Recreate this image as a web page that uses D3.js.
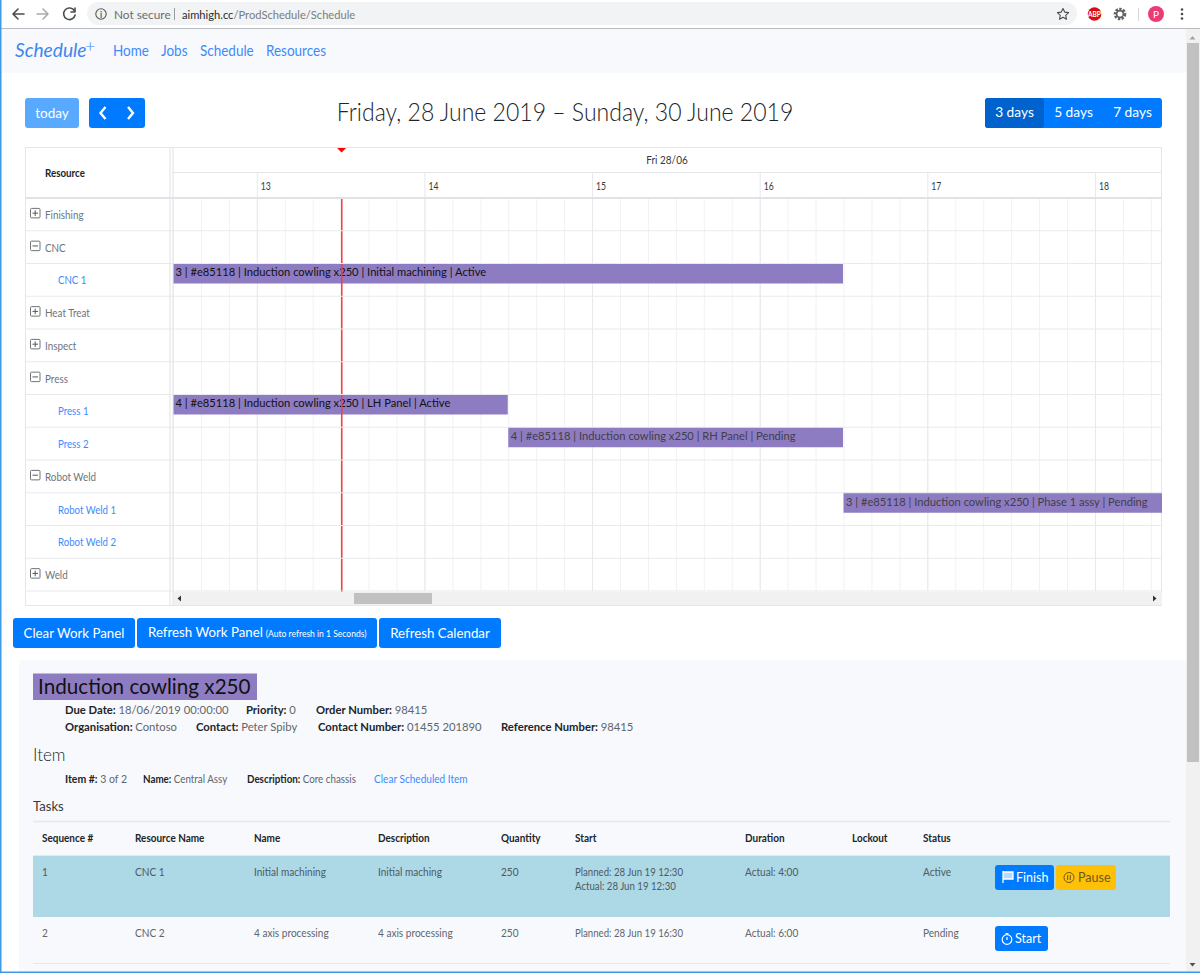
<!DOCTYPE html>
<html>
<head>
<meta charset="utf-8">
<title>Schedule</title>
<script src="https://cdn.jsdelivr.net/npm/d3@7"></script>
<style>
  html, body { margin: 0; padding: 0; background: #fff; overflow: hidden; }
  svg { display: block; font-family: Lato, "Noto Sans", sans-serif; }
  .axis path { display: none; }
</style>
</head>
<body>
<svg id="page" width="1200" height="973"></svg>
<script>
var resources = ["Finishing", "CNC", "CNC 1", "Heat Treat", "Inspect", "Press", "Press 1", "Press 2", "Robot Weld", "Robot Weld 1", "Robot Weld 2", "Weld"];
var resourceKinds = ["closed", "open", "child", "closed", "closed", "open", "child", "child", "open", "child", "child", "closed"];

var taskResources = ["CNC 1", "Press 1", "Press 2", "Robot Weld 1"];
var taskStarts = ["12:30", "12:30", "14:30", "16:30"];
var taskEnds = ["16:30", "14:30", "16:30", "20:30"];
var taskLabels = [
  "3 | #e85118 | Induction cowling x250 | Initial machining | Active",
  "4 | #e85118 | Induction cowling x250 | LH Panel | Active",
  "4 | #e85118 | Induction cowling x250 | RH Panel | Pending",
  "3 | #e85118 | Induction cowling x250 | Phase 1 assy | Pending"
];
var taskStates = ["Active", "Active", "Pending", "Pending"];
var nowTime = "13:30:20";

var navLinks = ["Home", "Jobs", "Schedule", "Resources"];
var viewButtons = ["3 days", "5 days", "7 days"];
var actionButtons = ["Clear Work Panel", "Refresh Work Panel", "Refresh Calendar"];

var orderLabels = ["Due Date: ", "Priority: ", "Order Number: ", "Organisation: ", "Contact: ", "Contact Number: ", "Reference Number: "];
var orderValues = ["18/06/2019 00:00:00", "0", "98415", "Contoso", "Peter Spiby", "01455 201890", "98415"];
var itemLabels = ["Item #: ", "Name: ", "Description: "];
var itemValues = ["3 of 2", "Central Assy", "Core chassis"];

var tableHeaders = ["Sequence #", "Resource Name", "Name", "Description", "Quantity", "Start", "Duration", "Lockout", "Status"];
var rowOne = ["1", "CNC 1", "Initial machining", "Initial maching", "250", "Planned: 28 Jun 19 12:30", "Actual: 4:00", "", "Active"];
var rowOneActual = "Actual: 28 Jun 19 12:30";
var rowTwo = ["2", "CNC 2", "4 axis processing", "4 axis processing", "250", "Planned: 28 Jun 19 16:30", "Actual: 6:00", "", "Pending"];

var svg = d3.select("#page");
var parseTime = function(s) {
  var p = s.split(":");
  return new Date(2019, 5, 28, +p[0], +p[1], +(p[2] || 0));
};

function addRect(parent, x, y, w, h, fill, r) {
  return parent.append("rect").attr("x", x).attr("y", y).attr("width", w).attr("height", h)
    .attr("fill", fill).attr("rx", r || 0);
}
function addText(parent, x, y, str, size, color, weight, anchor) {
  return parent.append("text").attr("x", x).attr("y", y).attr("font-size", size)
    .attr("fill", color).attr("font-weight", weight || 400).attr("text-anchor", anchor || "start").text(str);
}
function addLine(parent, x1, y1, x2, y2, color, w) {
  return parent.append("line").attr("x1", x1).attr("y1", y1).attr("x2", x2).attr("y2", y2)
    .attr("stroke", color).attr("stroke-width", w || 1);
}
function addButton(x, y, w, h, fill, label, size, color) {
  addRect(svg, x, y, w, h, fill, 3);
  return addText(svg, x + w / 2, y + h / 2 + size * 0.35, label, size, color || "#fff", 400, "middle");
}
// the page's own font is narrower than Lato, squeeze text sideways (default .95)
function fit(sel, ratio) { return sel.attr("data-fit", ratio); }

// ---- browser toolbar
addRect(svg, 0, 0, 1200, 973, "#fff");
addRect(svg, 87, 2, 990, 23, "#f1f3f4", 11.5);
addLine(svg, 0, 28.5, 1200, 28.5, "#b8bcc0");
var chrome = svg.append("g").attr("fill", "none").attr("stroke-width", 1.6).attr("stroke-linecap", "round").attr("stroke-linejoin", "round");
chrome.append("path").attr("d", "M24 14H13M18 9l-5 5 5 5").attr("stroke", "#4a4d50");
chrome.append("path").attr("d", "M37 14H48M43 9l5 5-5 5").attr("stroke", "#a8abae");
chrome.append("path").attr("d", "M74.5 11a5.8 5.8 0 1 0 .6 4").attr("stroke", "#4a4d50");
chrome.append("path").attr("d", "M75 8v4h-4").attr("stroke", "#4a4d50");
chrome.append("circle").attr("cx", 101).attr("cy", 14).attr("r", 5.2).attr("stroke", "#55585c").attr("stroke-width", 1.1);
fit(addText(svg, 101, 17.5, "i", 8.5, "#55585c", 700, "middle"), 1);
fit(addText(svg, 114, 19, "Not secure", 11.5, "#6a6d70"), 1.03);
addLine(svg, 174.5, 8, 174.5, 20, "#9a9da0");
var urlText = fit(addText(svg, 182, 19, "aimhigh.cc", 11.5, "#2a2c2e"), 0.97);
urlText.append("tspan").attr("fill", "#7a7d80").text("/ProdSchedule/Schedule");
chrome.append("path").attr("d", "M1063 8.5l1.7 3.6 3.9.5-2.9 2.7.8 3.9-3.5-2-3.5 2 .8-3.9-2.9-2.7 3.9-.5z").attr("stroke", "#4a4d50").attr("stroke-width", 1.1);
svg.append("circle").attr("cx", 1094.5).attr("cy", 14).attr("r", 6.8).attr("fill", "#d50f0f");
fit(addText(svg, 1094.5, 16.5, "ABP", 6.5, "#fff", 700, "middle"), 1);
svg.append("circle").attr("cx", 1120).attr("cy", 14).attr("r", 4.6).attr("fill", "none").attr("stroke", "#5f6368").attr("stroke-width", 3.4).attr("stroke-dasharray", "2.2 1.2");
svg.append("circle").attr("cx", 1120).attr("cy", 14).attr("r", 3.4).attr("fill", "none").attr("stroke", "#5f6368").attr("stroke-width", 1.6);
addLine(svg, 1138.5, 8, 1138.5, 21, "#d5d7d9");
svg.append("circle").attr("cx", 1156).attr("cy", 14).attr("r", 8).attr("fill", "#ec3a77");
fit(addText(svg, 1156, 17.5, "P", 10, "#fff", 400, "middle"), 1);
svg.selectAll(".menu-dot").data(["upper", "middle", "lower"]).enter().append("circle")
  .attr("cx", 1182).attr("cy", function(d, i) { return 9.5 + i * 4.5; }).attr("r", 1.3).attr("fill", "#4a4d50");

// ---- navbar
addRect(svg, 2, 29, 1185, 44, "#f8f9fc");
fit(addText(svg, 15, 57, "Schedule", 20, "#3f86f0", 400).attr("font-style", "italic"), 0.96);
fit(addText(svg, 85, 52, "+", 18, "#3f86f0", 300), 1);
var navX = d3.scaleOrdinal().domain(navLinks).range([113, 161, 200, 266]);
navLinks.forEach(function(d) { fit(addText(svg, navX(d), 56, d, 14.5, "#3d8bfd"), 0.93); });

// ---- calendar toolbar
fit(addButton(25, 98, 54, 30, "#59a9ff", "today", 14), 0.97);
addRect(svg, 89, 98, 56, 30, "#007bff", 3);
svg.append("path").attr("d", "M105.5 107l-5 6 5 6M128 107l5 6-5 6").attr("fill", "none").attr("stroke", "#fff").attr("stroke-width", 2.4);
fit(addText(svg, 565, 121, "Friday, 28 June 2019 \u2013 Sunday, 30 June 2019", 24.5, "#212529", 300, "middle"), 0.94);
addRect(svg, 985, 98, 177, 30, "#007bff", 3);
addRect(svg, 985, 98, 59, 30, "#0062cc", 3);
var viewX = d3.scaleBand().domain(viewButtons).range([985, 1162]);
viewButtons.forEach(function(d) { fit(addText(svg, viewX(d) + viewX.bandwidth() / 2, 117.5, d, 14, "#fff", 400, "middle"), 0.98); });

// ---- calendar
var rowScale = d3.scaleBand().domain(resources).range([198, 591]);
var timeScale = d3.scaleTime().domain([parseTime("12:30"), parseTime("18:24")]).range([173, 1162]);

var cal = svg.append("g");
addRect(cal, 25.5, 147.5, 1136, 458, "#fff").attr("stroke", "#e3e6ea");
addRect(cal, 173, 592, 989, 13, "#f1f1f1");

var clipId = "grid-clip";
svg.append("clipPath").attr("id", clipId).append("rect").attr("x", 173).attr("y", 147).attr("width", 989).attr("height", 445);
var plot = cal.append("g").attr("clip-path", "url(#" + clipId + ")");

// 10 minute grid, hour lines a bit darker
plot.append("g").attr("class", "axis").attr("transform", "translate(0,198)")
  .call(d3.axisBottom(timeScale).ticks(d3.timeMinute.every(10)).tickSize(393).tickFormat(""))
  .selectAll(".tick line").attr("stroke", "#f1f2f4");
plot.append("g").attr("class", "axis").attr("transform", "translate(0,172)")
  .call(d3.axisBottom(timeScale).ticks(d3.timeHour.every(1)).tickSize(419).tickFormat(""))
  .selectAll(".tick line").attr("stroke", "#e6e8ec");

// row lines
resources.forEach(function(d) {
  addLine(cal, 25.5, rowScale(d) + rowScale.bandwidth(), 1162, rowScale(d) + rowScale.bandwidth(), "#e8eaee", 1.2);
});
addLine(cal, 25.5, 198, 1162, 198, "#dfe3e8", 2);
addLine(cal, 173, 172.5, 1162, 172.5, "#e3e6ea", 1.2);
addLine(cal, 170, 147, 170, 606, "#e3e6ea", 1.2);
addLine(cal, 173, 147, 173, 606, "#e3e6ea", 1.2);

// hour labels
var hourAxis = cal.append("g").attr("class", "axis").attr("transform", "translate(0,172)")
  .call(d3.axisBottom(timeScale).ticks(d3.timeHour.every(1)).tickSize(0).tickFormat(d3.timeFormat("%H")));
hourAxis.selectAll(".tick text").attr("text-anchor", "start").attr("x", 3.5).attr("y", 18)
  .attr("dy", 0).attr("font-size", 10.5).attr("font-family", "Lato").attr("fill", "#343a40").attr("data-fit", 0.82);

addText(cal, 667, 164, "Fri 28/06", 10.5, "#343a40", 400, "middle");
fit(addText(cal, 45, 177, "Resource", 10.5, "#212529", 700), 0.93);

// resource column
resources.forEach(function(d, i) {
  var y = rowScale(d) + rowScale.bandwidth() / 2;
  var kind = resourceKinds[i];
  if (kind === "child") {
    fit(addText(cal, 58, y + 4.5, d, 10.5, "#3d8bfd"), 0.92);
  } else {
    fit(addText(cal, 45, y + 4.5, d, 10.5, "#6c757d"), 0.94);
    addRect(cal, 30.5, y - 6, 9.5, 9.5, "#fff", 1).attr("stroke", "#6f7479");
    addLine(cal, 32.5, y - 1.2, 38, y - 1.2, "#55595d");
    if (kind === "closed") addLine(cal, 35.2, y - 4, 35.2, y + 1.6, "#55595d");
  }
});

// tasks
taskResources.forEach(function(d, i) {
  var x0 = timeScale(parseTime(taskStarts[i]));
  var x1 = timeScale(parseTime(taskEnds[i]));
  var y = rowScale(d);
  addRect(plot, x0, y, x1 - x0 - 0.5, 20, "#8e7cc3");
  fit(addText(plot, x0 + 2.5, y + 13, taskLabels[i], 11.5, taskStates[i] === "Active" ? "#111" : "#3f3f46"), 0.972);
});

// now marker
var nowX = timeScale(parseTime(nowTime));
addLine(plot, nowX + 0.2, 198, nowX + 0.2, 592, "#fa3c44", 1.6);
svg.append("path").attr("d", "M" + (nowX - 4.5) + " 148h9l-4.5 4.5z").attr("fill", "#f00");

// calendar scrollbar
addRect(cal, 354, 593, 78, 11, "#c1c1c1");
cal.append("path").attr("d", "M181 595.5v6l-3.5-3z").attr("fill", "#333");
cal.append("path").attr("d", "M1153 595.5v6l3.5-3z").attr("fill", "#333");

// ---- action buttons
addButton(13, 618, 122, 30, "#007bff", actionButtons[0], 14);
addRect(svg, 137, 618, 240, 30, "#007bff", 3);
var refreshText = addText(svg, 148, 637.5, actionButtons[1], 14, "#fff");
refreshText.append("tspan").attr("font-size", 9).attr("dx", 3).text("(Auto refresh in 1 Seconds)");
addButton(379, 618, 122, 30, "#007bff", actionButtons[2], 14);

// ---- work panel
addRect(svg, 19, 660, 1167, 313, "#f8f9fc", 3);
addRect(svg, 33, 673.5, 224, 26.5, "#8e7cc3");
fit(addText(svg, 38, 694, "Induction cowling x250", 22, "#111"), 0.94);

var orderX = [65, 246, 316, 65, 196, 318, 501];
var orderY = [714, 714, 714, 731, 731, 731, 731];
orderLabels.forEach(function(d, i) {
  var t = fit(addText(svg, orderX[i], orderY[i], d, 12, "#212529", 700), 0.94);
  t.append("tspan").attr("font-weight", 400).attr("fill", "#5f666d").text(orderValues[i]);
});

fit(addText(svg, 33, 761, "Item", 17, "#212529", 300), 1);
var itemX = [65, 143, 247];
itemLabels.forEach(function(d, i) {
  var t = fit(addText(svg, itemX[i], 783, d, 10.5, "#212529", 700), i === 0 ? 1 : 0.935);
  t.append("tspan").attr("font-weight", 400).attr("fill", "#5f666d").text(itemValues[i]);
});
fit(addText(svg, 374, 783, "Clear Scheduled Item", 10.5, "#3d8bfd"), 0.96);

fit(addText(svg, 33, 811, "Tasks", 13.5, "#343a40", 400), 0.97);
addLine(svg, 33, 821.5, 1170, 821.5, "#e5e8ec", 1.5);

var columnX = [42, 135, 254, 378, 501, 575, 745, 852, 923];
tableHeaders.forEach(function(d, i) { addText(svg, columnX[i], 842, d, 10.5, "#212529", 700); });
addLine(svg, 33, 855.5, 1170, 855.5, "#e5e8ec", 1.2);
addRect(svg, 33, 856, 1137, 61, "#add8e6");
rowOne.forEach(function(d, i) { fit(addText(svg, columnX[i], 876, d, 10.5, "#4d5a63"), i === 5 ? 0.92 : 0.96); });
fit(addText(svg, columnX[5], 890, rowOneActual, 10.5, "#4d5a63"), 0.92);
rowTwo.forEach(function(d, i) { fit(addText(svg, columnX[i], 937.5, d, 10.5, "#5f666d"), i === 5 ? 0.92 : 0.96); });
addLine(svg, 33, 963.5, 1170, 963.5, "#e5e8ec", 1.2);

// task buttons
addRect(svg, 995, 865, 59, 25, "#007bff", 3);
fit(addText(svg, 1016, 881.5, "Finish", 12.5, "#fff"), 1);
svg.append("path").attr("d", "M1003 871v12M1003 872h10v7h-10").attr("fill", "#b8d8ff").attr("stroke", "#fff").attr("stroke-width", 1.3);
addRect(svg, 1056, 865, 60, 25, "#ffc107", 3);
fit(addText(svg, 1078, 881.5, "Pause", 12.5, "#6b5a1c"), 1);
svg.append("circle").attr("cx", 1069).attr("cy", 877.5).attr("r", 5).attr("fill", "none").attr("stroke", "#6b5a1c");
svg.append("path").attr("d", "M1067.7 875v5M1070.3 875v5").attr("stroke", "#6b5a1c");
addRect(svg, 995, 926, 53, 25, "#007bff", 3);
fit(addText(svg, 1015, 942.5, "Start", 12.5, "#fff"), 1);
svg.append("circle").attr("cx", 1007).attr("cy", 939.5).attr("r", 4.8).attr("fill", "none").attr("stroke", "#fff").attr("stroke-width", 1.2);
svg.append("path").attr("d", "M1007 937v3M1005.5 933.5h3").attr("stroke", "#fff").attr("stroke-width", 1.2);

// ---- page scrollbar and window edge
addRect(svg, 1186, 29, 14, 944, "#f1f1f1");
addRect(svg, 1187, 43, 12, 719, "#c1c1c1");
svg.append("path").attr("d", "M1189.5 39.5l3-3.5 3 3.5z").attr("fill", "#a3a3a3");
svg.append("path").attr("d", "M1189.5 963l3 3.5 3-3.5z").attr("fill", "#505050");
addRect(svg, 0, 0, 1.5, 973, "#3f9ae5");
addRect(svg, 0, 971.5, 1200, 1.5, "#3f9ae5");

svg.selectAll("text").each(function() {
  var t = d3.select(this);
  var ratio = +(t.attr("data-fit") || 0.95);
  var x = +t.attr("x");
  if (ratio !== 1) t.attr("transform", "translate(" + x + ",0) scale(" + ratio + ",1) translate(" + (-x) + ",0)");
});
</script>
</body>
</html>
